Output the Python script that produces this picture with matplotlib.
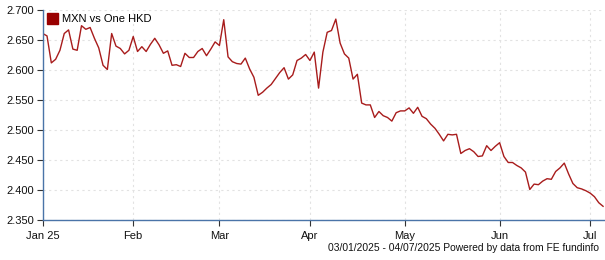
import pandas as pd
import matplotlib
matplotlib.use("Agg")
import matplotlib.pyplot as plt
from matplotlib.patches import Patch

plt.rcParams['font.family'] = ['Liberation Sans', 'DejaVu Sans']

# trading days 03/01/2025 - 04/07/2025
dates = pd.bdate_range('2025-01-03', '2025-07-04')

# MXN vs One HKD
rate = [
    2.660, 2.656, 2.611, 2.617, 2.632, 2.660, 2.666, 2.634, 2.632, 2.673,
    2.667, 2.670, 2.652, 2.636, 2.607, 2.600, 2.660, 2.639, 2.635, 2.626,
    2.632, 2.655, 2.630, 2.638, 2.630, 2.642, 2.652, 2.641, 2.627, 2.631,
    2.607, 2.608, 2.605, 2.627, 2.620, 2.620, 2.630, 2.635, 2.623, 2.634,
    2.646, 2.640, 2.683, 2.621, 2.613, 2.610, 2.609, 2.619, 2.601, 2.587,
    2.557, 2.562, 2.569, 2.575, 2.585, 2.595, 2.603, 2.584, 2.591, 2.615,
    2.619, 2.625, 2.615, 2.629, 2.569, 2.629, 2.662, 2.665, 2.684, 2.644,
    2.626, 2.619, 2.584, 2.592, 2.544, 2.541, 2.541, 2.520, 2.530, 2.523,
    2.520, 2.514, 2.528, 2.531, 2.531, 2.536, 2.527, 2.537, 2.522, 2.518,
    2.509, 2.502, 2.492, 2.481, 2.492, 2.491, 2.492, 2.460, 2.465, 2.468,
    2.463, 2.455, 2.456, 2.473, 2.465, 2.472, 2.478, 2.455, 2.445, 2.445,
    2.440, 2.436, 2.429, 2.400, 2.409, 2.408, 2.414, 2.418, 2.417, 2.430,
    2.436, 2.444, 2.426, 2.410, 2.403, 2.401, 2.398, 2.394, 2.388, 2.378,
    2.372,
]

month_labels = ['Jan 25', 'Feb', 'Mar', 'Apr', 'May', 'Jun', 'Jul']
y_ticks = [2.350, 2.400, 2.450, 2.500, 2.550, 2.600, 2.650, 2.700]

# first trading day of each month -> tick position
s = pd.Series(range(len(dates)), index=dates)
month_pos = s.groupby(dates.to_period('M')).first().values

fig = plt.figure(figsize=(6.05, 2.6), dpi=100)
ax = fig.add_axes([42.7 / 605, 1 - 219.5 / 260, (603.5 - 42.7) / 605, 210 / 260])

ax.plot(range(len(rate)), rate, color='#a81c1c', lw=1.0)

ax.set_xlim(0, len(rate) - 1 + 0.1)
ax.set_ylim(2.350, 2.700)
ax.set_yticks(y_ticks)
ax.set_yticklabels(['%.3f' % v for v in y_ticks])
ax.set_xticks(month_pos)
ax.set_xticklabels(month_labels)

ax.grid(True, color='#e2e2e2', linestyle=(0, (2, 3)), lw=0.8)
ax.set_axisbelow(True)

for side in ['top', 'right']:
    ax.spines[side].set_visible(False)
for side in ['left', 'bottom']:
    ax.spines[side].set_color('#4a74a8')
    ax.spines[side].set_linewidth(1.0)

ax.tick_params(axis='both', labelsize=8, length=4, width=0.8, color='#333333',
               labelcolor='#111111', pad=2)
ax.tick_params(axis='x', pad=4)

leg = ax.legend(handles=[Patch(facecolor='#990000', edgecolor='#990000', label='MXN vs One HKD')],
                loc='upper left', bbox_to_anchor=(0.007, 0.982), frameon=False,
                fontsize=8, handlelength=1.05, handleheight=1.1, handletextpad=0.35,
                borderaxespad=0, borderpad=0)

fig.text(599.5 / 605, 1 - 248 / 260, '03/01/2025 - 04/07/2025 Powered by data from FE fundinfo',
         ha='right', va='center', fontsize=7.4, color='#111111')

fig.savefig('out.png', dpi=100)
